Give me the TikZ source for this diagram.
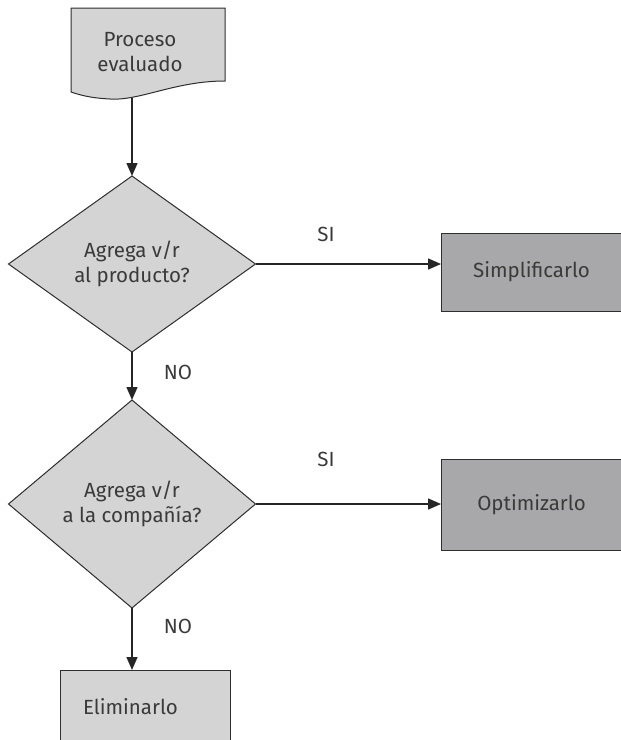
\documentclass[tikz,border=0pt]{standalone}
\usepackage{fontspec}
\setmainfont{Fira Sans}
\usetikzlibrary{shapes.geometric,arrows.meta}
\definecolor{lightfill}{HTML}{D4D4D4}
\definecolor{darkfill}{HTML}{A8A8AA}
\definecolor{edgecol}{HTML}{2E2E2E}
\definecolor{txt}{HTML}{3A3A3A}
\begin{document}
\begin{tikzpicture}[x=1pt,y=-1pt,
  every node/.style={text=txt, font=\fontsize{20.5}{25}\selectfont},
  shapeline/.style={draw=edgecol, line width=1pt},
  decision/.style={shapeline, diamond, fill=lightfill, inner sep=0pt, outer sep=0pt, align=center},
  actbox/.style={shapeline, rectangle, inner sep=0pt, outer sep=0pt},
  conn/.style={draw=black!85, line width=1.5pt, -{Triangle[length=13pt,width=11pt]}},
  lbl/.style={inner sep=0pt}]
\useasboundingbox (0,0) rectangle (621,740);
\clip (0,0) rectangle (621,740);
% document shape
\path[shapeline, fill=lightfill] (71,8) -- (225,8) -- (225,81)
  .. controls (175,81) and (140,101) .. (110,99)
  .. controls (90,98) and (80,95) .. (71,92) -- cycle;
\node[align=center] (doc) at (140,52) {Proceso\\evaluado};
\coordinate (docb) at (132,98);
% decisions
\node[decision, minimum width=247pt, minimum height=176pt] (d1) at (132,264) {Agrega v/r\\al producto?};
\node[decision, minimum width=247pt, minimum height=208pt] (d2) at (132,504) {Agrega v/r\\a la compañía?};
% boxes
\node[actbox, fill=darkfill, minimum width=181pt, minimum height=78pt] (s) at (531.5,272) {Simplificarlo};
\node[actbox, fill=darkfill, minimum width=181pt, minimum height=91pt] (o) at (531.5,504.5) {Optimizarlo};
\node[actbox, fill=lightfill, minimum width=170pt, minimum height=74pt, inner xsep=23pt, text width=124pt, align=left] (e) at (145,707) {Eliminarlo};
% connectors
\draw[conn] (docb) -- (d1.north);
\draw[conn] (d1.east) -- (s.west |- d1.east) node[lbl, pos=0.38, above=22pt] {SI};
\draw[conn] (d2.east) -- (o.west |- d2.east) node[lbl, pos=0.38, above=37pt] {SI};
\draw[conn] (d1.south) -- (d2.north) node[lbl, pos=0.42, right=31pt] {NO};
\draw[conn] (d2.south) -- (d2.south |- e.north) node[lbl, pos=0.3, right=31pt] {NO};
\end{tikzpicture}
\end{document}
